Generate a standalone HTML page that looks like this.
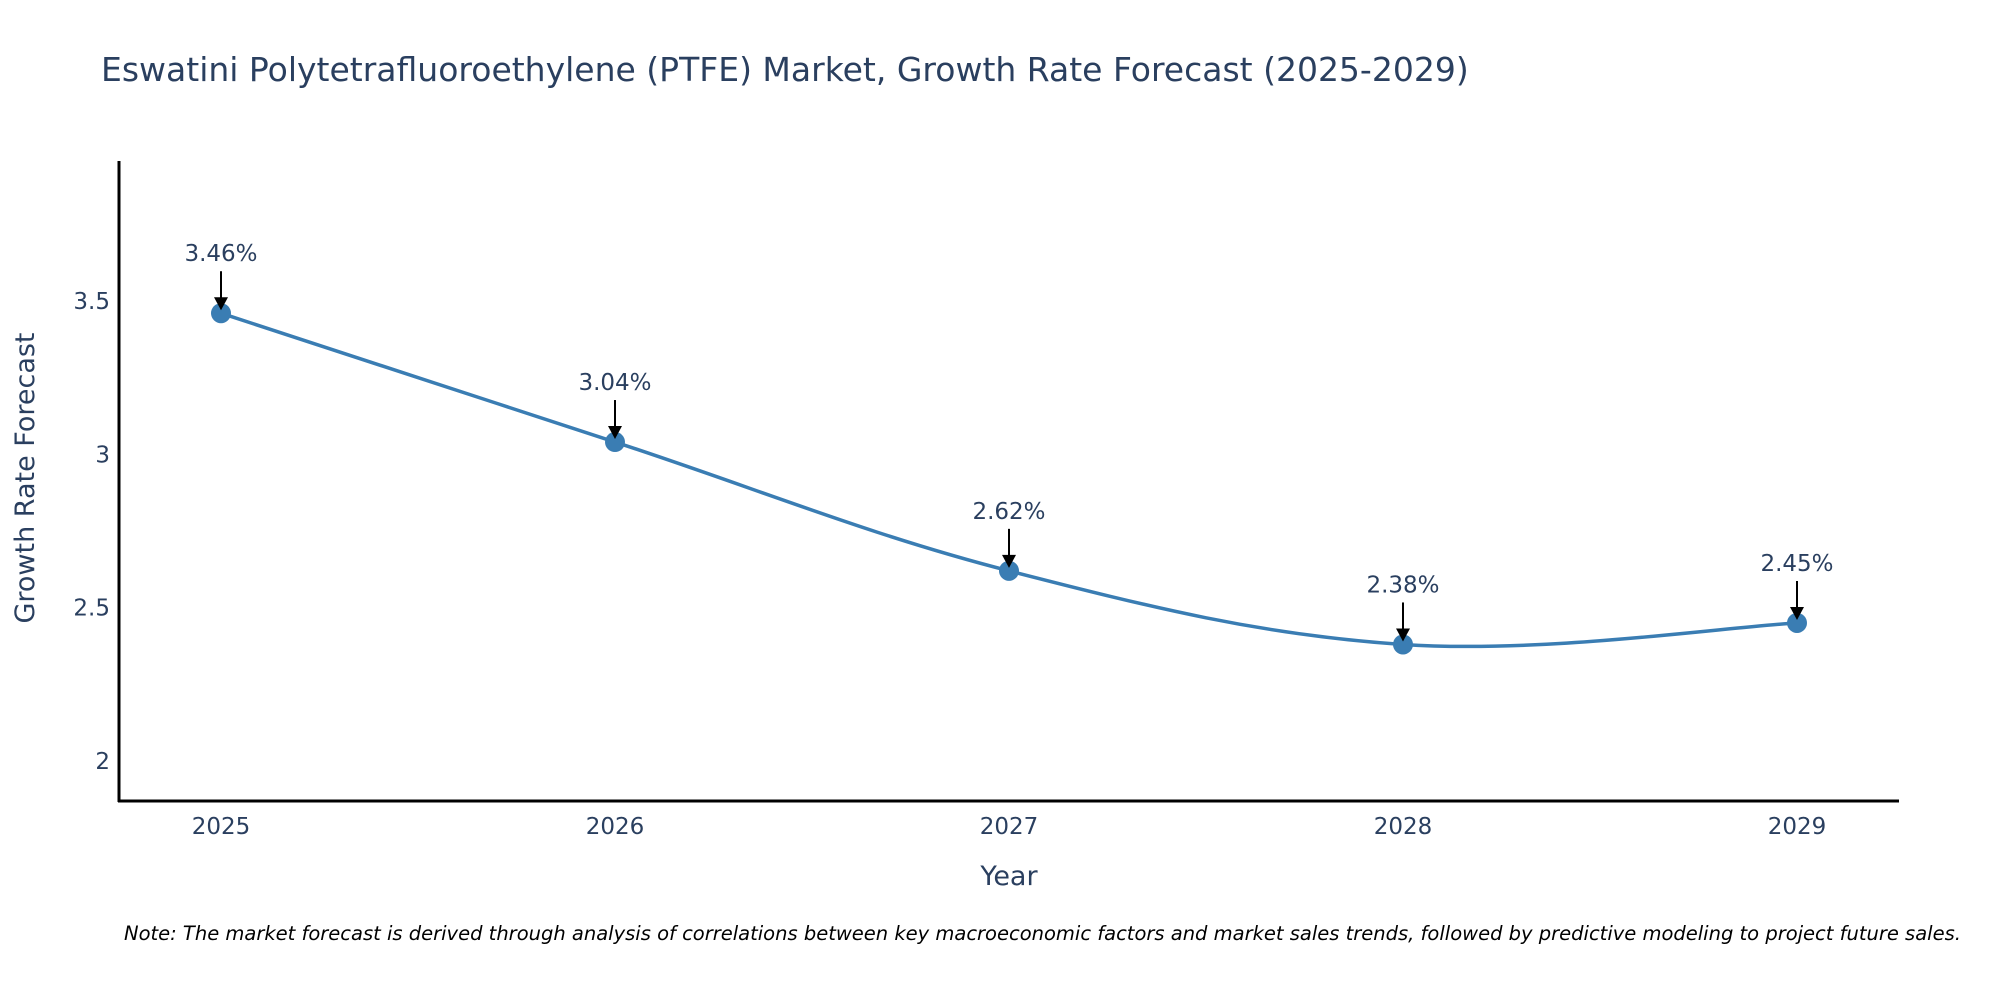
<!DOCTYPE html>
<html><head><meta charset="utf-8"><style>
body{margin:0;background:#fff;}
svg{display:block;font-family:"DejaVu Sans","Liberation Sans",sans-serif;}
</style></head><body>
<svg id="chart" width="2000" height="1000" viewBox="0 0 2000 1000">
<text x="101" y="81" font-size="33" fill="#2a3f5f">Eswatini Polytetrafluoroethylene (PTFE) Market, Growth Rate Forecast (2025-2029)</text>
<g id="yticks"></g><g id="xticks"></g>
<line x1="119" y1="161" x2="119" y2="802" stroke="#000" stroke-width="3"/>
<line x1="118" y1="801" x2="1899" y2="801" stroke="#000" stroke-width="3"/>
<text x="1009" y="885" font-size="27" fill="#2a3f5f" text-anchor="middle">Year</text>
<text x="34" y="478" font-size="27" fill="#2a3f5f" text-anchor="middle" transform="rotate(-90 34 478)">Growth Rate Forecast</text>
<g id="series"></g>
<text x="124" y="940" font-size="19.5" font-style="italic" fill="#000">Note: The market forecast is derived through analysis of correlations between key macroeconomic factors and market sales trends, followed by predictive modeling to project future sales.</text>
</svg>
<script>
const years = [2025, 2026, 2027, 2028, 2029];
const values = [3.46, 3.04, 2.62, 2.38, 2.45];
const labels = ["3.46%", "3.04%", "2.62%", "2.38%", "2.45%"];
const yTickVals = [2, 2.5, 3, 3.5];
const yTickLabels = ["2", "2.5", "3", "3.5"];

const NS = "http://www.w3.org/2000/svg";
const xS = y => 221 + (y - 2025) * 394;
const yS = v => 761 - (v - 2) * 306.7;
function mk(tag, attrs, parent, text){
  const e = document.createElementNS(NS, tag);
  for (const k in attrs) e.setAttribute(k, attrs[k]);
  if (text !== undefined) e.textContent = text;
  parent.appendChild(e); return e;
}
const yt = document.getElementById('yticks');
yTickVals.forEach((v,i)=>{
  const t = mk('text',{x:110,y:yS(v)+8,'font-size':23,fill:'#2a3f5f','text-anchor':'end'},yt,yTickLabels[i]);
  
  
});
const xt = document.getElementById('xticks');
years.forEach(y=>{
  const t = mk('text',{x:xS(y),y:834,'font-size':23,fill:'#2a3f5f','text-anchor':'middle'},xt,String(y));
  
  
});
const g = document.getElementById('series');
const pts = years.map((y,i)=>[xS(y), yS(values[i])]);
let d = `M${pts[0][0]},${pts[0][1]}`;
for (let i=0;i<pts.length-1;i++){
  const p0 = pts[Math.max(0,i-1)], p1 = pts[i], p2 = pts[i+1], p3 = pts[Math.min(pts.length-1,i+2)];
  const k = 0.18;
  const c1 = [p1[0]+(p2[0]-p0[0])*k, p1[1]+(p2[1]-p0[1])*k];
  const c2 = [p2[0]-(p3[0]-p1[0])*k, p2[1]-(p3[1]-p1[1])*k];
  d += ` C${c1[0]},${c1[1]} ${c2[0]},${c2[1]} ${p2[0]},${p2[1]}`;
}
const line = mk('path',{d:d,fill:'none',stroke:'#3a7db3','stroke-width':3.5},g);


pts.forEach((p,i)=>{
  const c = mk('circle',{cx:p[0],cy:p[1],r:10,fill:'#3a7db3'},g);
  
  
  const a = mk('line',{x1:p[0],y1:p[1]-42,x2:p[0],y2:p[1]-14,stroke:'#000','stroke-width':2},g);
  
  
  const h = mk('polygon',{points:`${p[0]-7},${p[1]-16} ${p[0]+7},${p[1]-16} ${p[0]},${p[1]-3}`,fill:'#000'},g);
  
  
  const t = mk('text',{x:p[0],y:p[1]-52,'font-size':23,fill:'#2a3f5f','text-anchor':'middle'},g,labels[i]);
  
  
});
</script>
</body></html>
